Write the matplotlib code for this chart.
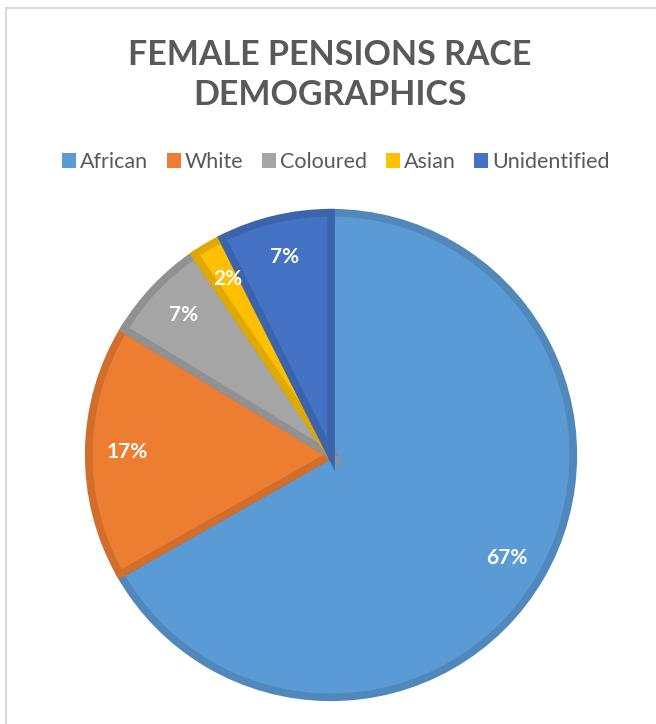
import matplotlib.pyplot as plt
import matplotlib.colors as mcolors
from matplotlib.patches import Rectangle

# data
categories = ["African", "White", "Coloured", "Asian", "Unidentified"]
shares = [66.8, 16.9, 6.8, 2.1, 7.4]
colors = ["#5B9BD5", "#ED7D31", "#A5A5A5", "#FFC000", "#4472C4"]


def darker(c, f=0.88):
    r, g, b = mcolors.to_rgb(c)
    return (r * f, g * f, b * f)


plt.rcParams['font.family'] = ['Lato', 'DejaVu Sans']

fig = plt.figure(figsize=(6.56, 7.24), dpi=100)

# chart frame (cropped, only top and left edges visible)
fig.patches.append(Rectangle((6 / 656, -0.1), 1.2, (724 - 8) / 724 + 0.1,
                             transform=fig.transFigure, fill=False,
                             edgecolor="#D9D9D9", linewidth=1.5))

ax = fig.add_axes([(331 - 246) / 656, 23 / 724, 492 / 656, 492 / 724])
wedges, texts, autotexts = ax.pie(
    shares, colors=colors, startangle=90, counterclock=False,
    radius=0.985, autopct="%.0f%%", pctdistance=0.84,
    wedgeprops=dict(linewidth=5.5, joinstyle="miter"),
    textprops=dict(color="white", fontsize=15, fontweight="bold"))
for w, c in zip(wedges, colors):
    w.set_edgecolor(darker(c))
ax.set_xlim(-1, 1)
ax.set_ylim(-1, 1)
ax.set_aspect("equal")
ax.axis("off")

fig.text(0.503, 1 - 55 / 724, "FEMALE PENSIONS RACE", ha="center", va="center",
         fontsize=24.5, fontweight="bold", color="#595959")
fig.text(0.503, 1 - 95 / 724, "DEMOGRAPHICS", ha="center", va="center",
         fontsize=24.5, fontweight="bold", color="#595959")

handles = [Rectangle((0, 0), 1, 1, facecolor=c) for c in colors]
leg = fig.legend(handles, categories, loc="center", ncol=5,
                 bbox_to_anchor=(0.512, 1 - 162 / 724), frameon=False,
                 fontsize=15.5, handlelength=0.65, handleheight=0.65,
                 handletextpad=0.2, columnspacing=0.85, borderaxespad=0)
for t in leg.get_texts():
    t.set_color("#595959")

fig.savefig("out.png", dpi=100)
